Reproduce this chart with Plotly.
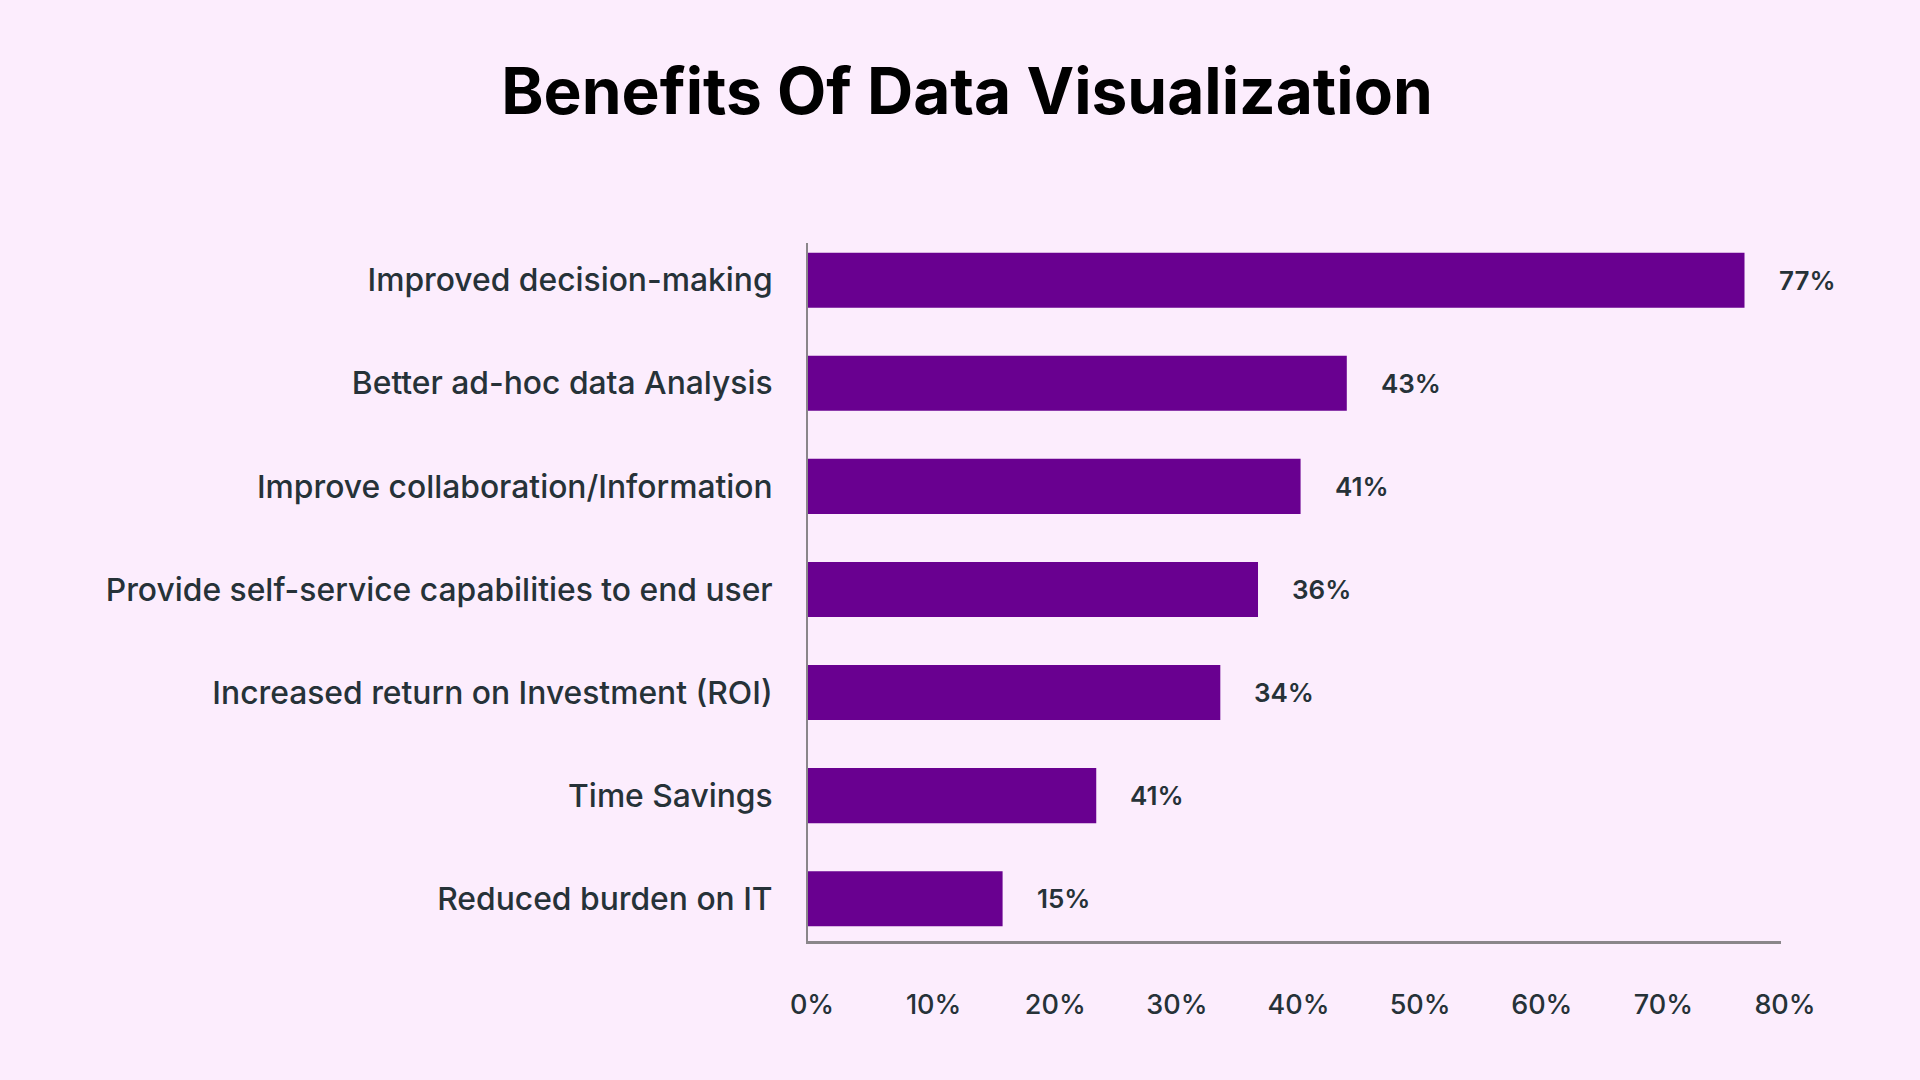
import plotly.graph_objects as go

categories = [
    "Improved decision-making",
    "Better ad-hoc data Analysis",
    "Improve collaboration/Information",
    "Provide self-service capabilities to end user",
    "Increased return on Investment (ROI)",
    "Time Savings",
    "Reduced burden on IT",
]
bar_values = [77.0, 44.3, 40.5, 37.0, 33.9, 23.7, 16.0]
value_labels = ["77%", "43%", "41%", "36%", "34%", "41%", "15%"]
tick_values = [0, 10, 20, 30, 40, 50, 60, 70, 80]
tick_labels = ["0%", "10%", "20%", "30%", "40%", "50%", "60%", "70%", "80%"]

BG = "#FCEDFD"
BAR = "#690090"
TXT = "#263238"
AXIS = "#8A868A"
FONT = "Inter"

fig = go.Figure()
fig.add_trace(go.Bar(
    x=bar_values,
    y=categories,
    orientation="h",
    marker=dict(color=BAR, line=dict(width=0)),
    width=0.534,
    hoverinfo="skip",
))

for cat, v, lab in zip(categories, bar_values, value_labels):
    fig.add_annotation(
        x=v, y=cat, text=lab, showarrow=False,
        xanchor="left", yanchor="middle", xshift=32,
        font=dict(family=FONT, size=26, color=TXT, weight=600),
    )

fig.update_layout(
    width=1920, height=1080,
    paper_bgcolor=BG, plot_bgcolor=BG,
    margin=dict(l=808, r=139, t=243, b=139),
    showlegend=False,
    title=dict(
        text="Benefits Of Data Visualization",
        x=967 / 1920, xanchor="center", xref="container",
        y=1 - 92 / 1080, yanchor="middle", yref="container",
        font=dict(family=FONT, size=64, color="#000000", weight=700),
    ),
    xaxis=dict(
        range=[0, 80], tickvals=tick_values, ticktext=tick_labels,
        showgrid=False, zeroline=False,
        showline=True, linecolor=AXIS, linewidth=3,
        ticks="", ticklabelstandoff=38, ticklabelshift=4,
        tickfont=dict(family=FONT, size=27, color=TXT, weight=500),
    ),
    yaxis=dict(
        categoryorder="array", categoryarray=categories,
        range=[6.41, -0.361],
        showgrid=False, zeroline=False,
        showline=True, linecolor=AXIS, linewidth=2,
        ticks="", ticklabelstandoff=27,
        tickfont=dict(family=FONT, size=31.8, color=TXT, weight=500),
    ),
)

fig.write_html("out.html")
